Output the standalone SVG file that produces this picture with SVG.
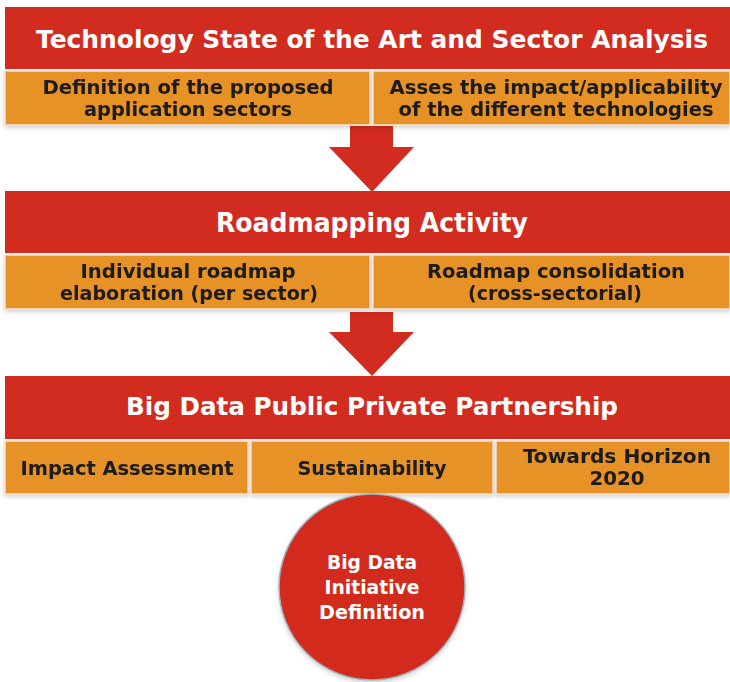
<svg xmlns="http://www.w3.org/2000/svg" width="730" height="682" viewBox="0 0 730 682">
<defs>
<filter id="sh" x="-10%" y="-10%" width="120%" height="130%">
<feDropShadow dx="0" dy="2" stdDeviation="2" flood-color="#000" flood-opacity="0.18"/>
</filter>
<style>
.red{fill:#D22B1F}
.org{fill:#E69226;stroke:#F3E0D8;stroke-width:1.5}
.t{font-family:"DejaVu Sans",Verdana,sans-serif;font-weight:bold;fill:#fff;text-anchor:middle}
.c{font-family:"DejaVu Sans Condensed","DejaVu Sans",sans-serif;font-stretch:condensed;font-weight:bold;fill:#fff;text-anchor:middle}
.s{font-family:"DejaVu Sans",Verdana,sans-serif;font-weight:bold;fill:#1a1a1a;text-anchor:middle;font-size:19px}
.sc{font-family:"DejaVu Sans Condensed","DejaVu Sans",sans-serif;font-stretch:condensed;font-weight:bold;fill:#1a1a1a;text-anchor:middle;font-size:20px}
</style>
</defs>
<rect width="730" height="682" fill="#fff"/>

<g id="connectors">
<polygon class="red" points="350,126 393,126 393,147 414,147 372,192 329,147 350,147"/>
<polygon class="red" points="350,312 393,312 393,332 414,332 372,376 329,332 350,332"/>
</g>

<g id="title1">
<rect class="red" x="5" y="7" width="725" height="62"/>
<text class="t" x="372" y="48" font-size="25" textLength="672" lengthAdjust="spacingAndGlyphs">Technology State of the Art and Sector Analysis</text>
</g>
<g id="def-sectors" filter="url(#sh)">
<rect class="org" x="5" y="71" width="365" height="54"/>
<text class="s" x="188" y="94" textLength="291" lengthAdjust="spacingAndGlyphs">Definition of the proposed</text>
<text class="s" x="188" y="116" textLength="208" lengthAdjust="spacingAndGlyphs">application sectors</text>
</g>
<g id="assess-impact" filter="url(#sh)">
<rect class="org" x="373" y="71" width="357" height="54"/>
<text class="s" x="556" y="94" textLength="333" lengthAdjust="spacingAndGlyphs">Asses the impact/applicability</text>
<text class="s" x="556" y="116" textLength="315" lengthAdjust="spacingAndGlyphs">of the different technologies</text>
</g>

<g id="title2">
<rect class="red" x="5" y="191" width="725" height="62"/>
<text class="c" x="372" y="232" font-size="26" textLength="312" lengthAdjust="spacingAndGlyphs">Roadmapping Activity</text>
</g>
<g id="individual" filter="url(#sh)">
<rect class="org" x="5" y="255" width="365" height="54"/>
<text class="sc" x="188" y="278" textLength="215" lengthAdjust="spacingAndGlyphs">Individual roadmap</text>
<text class="sc" x="189" y="300" textLength="258" lengthAdjust="spacingAndGlyphs">elaboration (per sector)</text>
</g>
<g id="consolidation" filter="url(#sh)">
<rect class="org" x="373" y="255" width="357" height="54"/>
<text class="sc" x="556" y="278" textLength="258" lengthAdjust="spacingAndGlyphs">Roadmap consolidation</text>
<text class="sc" x="555" y="300" textLength="174" lengthAdjust="spacingAndGlyphs">(cross-sectorial)</text>
</g>

<g id="title3">
<rect class="red" x="5" y="376" width="725" height="63"/>
<text class="c" x="372" y="415" font-size="25" textLength="492" lengthAdjust="spacingAndGlyphs">Big Data Public Private Partnership</text>
</g>
<g id="impact" filter="url(#sh)">
<rect class="org" x="5" y="441" width="243" height="53"/>
<text class="sc" x="127" y="475" textLength="213" lengthAdjust="spacingAndGlyphs">Impact Assessment</text>
</g>
<g id="sustainability" filter="url(#sh)">
<rect class="org" x="251" y="441" width="242" height="53"/>
<text class="sc" x="372" y="475" textLength="149" lengthAdjust="spacingAndGlyphs">Sustainability</text>
</g>
<g id="horizon" filter="url(#sh)">
<rect class="org" x="496" y="441" width="234" height="53"/>
<text class="sc" x="617" y="463" textLength="188" lengthAdjust="spacingAndGlyphs">Towards Horizon</text>
<text class="sc" x="617" y="485" textLength="55" lengthAdjust="spacingAndGlyphs">2020</text>
</g>

<g id="initiative">
<circle cx="372" cy="587" r="93" fill="#D22B1F" stroke="#9FB3BD" stroke-width="1.5" filter="url(#sh)"/>
<text class="t" x="372" y="569" font-size="20" textLength="90" lengthAdjust="spacingAndGlyphs">Big Data</text>
<text class="t" x="372" y="594" font-size="20" textLength="95" lengthAdjust="spacingAndGlyphs">Initiative</text>
<text class="t" x="372" y="619" font-size="20" textLength="106" lengthAdjust="spacingAndGlyphs">Definition</text>
</g>
</svg>
